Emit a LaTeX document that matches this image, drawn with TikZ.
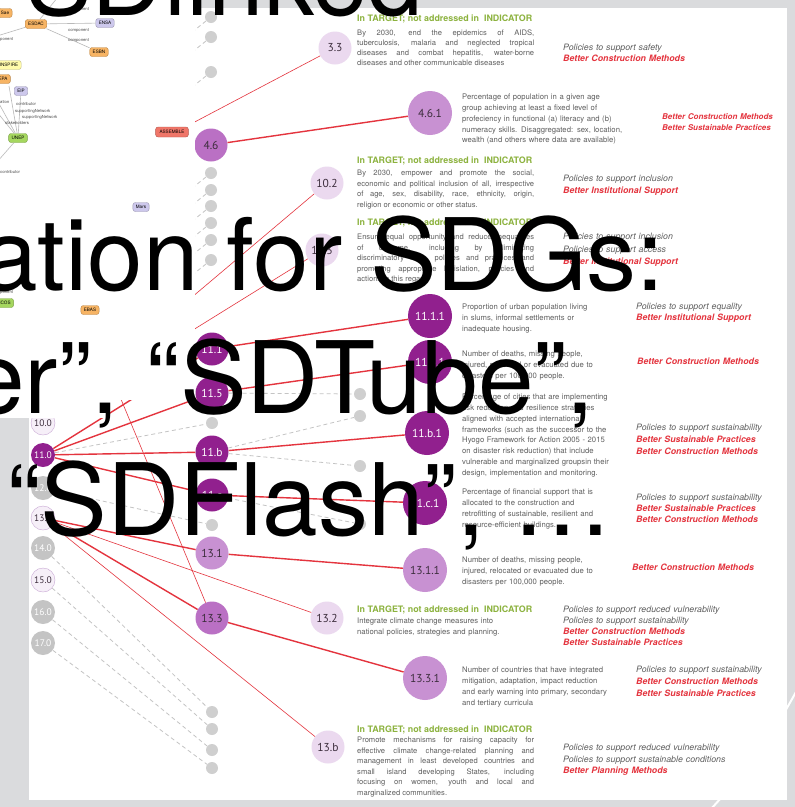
\documentclass[tikz,border=0pt]{standalone}
\usepackage{fontspec}
\setmainfont{TeX Gyre Heros}
\newfontfamily\labelfont{PT Sans}
\usetikzlibrary{positioning, calc}
\definecolor{sdbg}{RGB}{218,219,221}
\definecolor{sddark}{RGB}{145,32,142}
\definecolor{sdmid}{RGB}{186,112,196}
\definecolor{sdsoft}{RGB}{200,145,210}
\definecolor{sdpale}{RGB}{235,217,239}
\definecolor{sdwhite}{RGB}{246,239,248}
\definecolor{sdrim}{RGB}{200,168,212}
\definecolor{sdgray}{RGB}{196,196,196}
\definecolor{sddot}{RGB}{207,207,207}
\definecolor{sdred}{RGB}{228,52,62}
\definecolor{sdgreen}{RGB}{140,178,62}
\definecolor{sdtext}{RGB}{95,95,95}
\definecolor{sdink}{RGB}{60,45,60}
\definecolor{sdorange}{RGB}{247,180,100}
\definecolor{sdlav}{RGB}{205,200,236}
\definecolor{sdyellow}{RGB}{255,250,170}
\definecolor{sdlime}{RGB}{165,215,95}
\definecolor{sdsalmon}{RGB}{240,118,105}
\newcommand{\better}[1]{{\color{sdred}\bfseries #1}}

\begin{document}
\begin{tikzpicture}[x=1pt, y=-1pt,
  goal/.style={circle, minimum size=24pt, inner sep=0pt, text=sdink, font=\labelfont\fontsize{9.5}{10}\selectfont},
  target/.style={circle, minimum size=33pt, inner sep=0pt, text=sdink, font=\labelfont\fontsize{11.5}{12}\selectfont},
  indic/.style={circle, minimum size=44pt, inner sep=0pt, text=sdink, font=\labelfont\fontsize{11.5}{12}\selectfont},
  dot/.style={circle, fill=sddot, minimum size=12pt, inner sep=0pt},
  link/.style={draw=sdred, line width=0.6pt},
  strong/.style={draw=sdred, line width=1.4pt},
  weak/.style={draw=sdgray, dash pattern=on 4pt off 3pt, line width=0.8pt},
  head/.style={anchor=base west, inner sep=0pt, text=sdgreen, font=\bfseries\fontsize{8.9}{10}\selectfont},
  para/.style={anchor=base west, inner sep=0pt, text width=177pt, align=justify, text=sdtext, font=\fontsize{7.6}{10.5}\selectfont},
  ind/.style={anchor=base west, inner sep=0pt, text width=180pt, align=left, text=sdtext, font=\fontsize{7.7}{10.8}\selectfont},
  pol/.style={anchor=base west, inner sep=0pt, text width=170pt, align=left, text=sdtext, font=\itshape\fontsize{8.8}{11.5}\selectfont},
  gbox/.style={rounded corners=2.5pt, draw=#1!75!black, fill=#1, line width=0.4pt, inner xsep=3pt, inner ysep=1pt, minimum height=9pt, font=\fontsize{4.6}{5}\selectfont},
  gline/.style={draw=gray!55, line width=0.6pt},
  glab/.style={anchor=west, inner sep=0pt, text=black!70, font=\fontsize{4.2}{4.5}\selectfont},
  slide/.style={anchor=base west, inner sep=0pt, font=\fontsize{100}{100}\selectfont}
]
\useasboundingbox (0,0) rectangle (795,807);
\clip (0,0) rectangle (795,807);
\fill[sdbg] (0,0) rectangle (795,807);
\fill[white] (29,8) rectangle (787,800);

% goals
\node[goal, fill=sdwhite, draw=sdrim] (g10) at (43,423) {10.0};
\node[goal, fill=sddark, text=white] (g11) at (43,455) {11.0};
\node[goal, fill=sdgray, text=white] (g12) at (43,488) {12.0};
\node[goal, fill=sdwhite, draw=sdrim] (g13) at (43,518) {13.0};
\node[goal, fill=sdgray, text=white] (g14) at (43,548) {14.0};
\node[goal, fill=sdwhite, draw=sdrim] (g15) at (43,580) {15.0};
\node[goal, fill=sdgray, text=white] (g16) at (43,612) {16.0};
\node[goal, fill=sdgray, text=white] (g17) at (43,643) {17.0};

% targets
\node[target, fill=sdpale] (t33) at (335,48) {3.3};
\node[target, fill=sdmid] (t46) at (211,145) {4.6};
\node[target, fill=sdpale] (t102) at (327,183) {10.2};
\node[target, fill=sdpale] (t103) at (322,250) {10.3};
\node[target, fill=sddark, text=white] (t111) at (212,349) {11.1};
\node[target, fill=sddark, text=white] (t115) at (212,393) {11.5};
\node[target, fill=sddark, text=white] (t11b) at (212,452) {11.b};
\node[target, fill=sddark, text=white] (t11c) at (212,495) {11.c};
\node[target, fill=sdsoft] (t131) at (212,553) {13.1};
\node[target, fill=sdmid] (t133) at (212,618) {13.3};
\node[target, fill=sdpale] (t132) at (327,618) {13.2};
\node[target, fill=sdpale] (t13b) at (328,747) {13.b};

% indicators
\node[indic, fill=sdsoft] (i461) at (430,113) {4.6.1};
\node[indic, fill=sddark, text=white] (i1111) at (430,316) {11.1.1};
\node[indic, fill=sddark, text=white] (i1151) at (430,362) {11.5.1};
\node[indic, fill=sddark, text=white] (i11b1) at (427,433) {11.b.1};
\node[indic, fill=sddark, text=white] (i11c1) at (425,503) {11.c.1};
\node[indic, fill=sdsoft] (i1311) at (425,570) {13.1.1};
\node[indic, fill=sdsoft] (i1331) at (425,678) {13.3.1};

% unused ends
\foreach \y [count=\i] in {17,37,72,173,190,206,223,240,260} {
  \node[dot] (dA\i) at (211,\y) {};
  \coordinate (sA\i) at (181,\y+24);
  \draw[weak] (sA\i) -- (dA\i);
}
\node[dot] (dA10) at (212,423) {};
\node[dot] (dA11) at (212,525) {};
\node[dot] (dA12) at (212,712) {};
\node[dot] (dA13) at (212,729) {};
\node[dot] (dA14) at (212,750) {};
\node[dot] (dA15) at (212,768) {};
\node[dot] (dB1) at (360,394) {};
\node[dot] (dB2) at (360,416) {};
\node[dot] (dB3) at (360,466) {};
\node[dot] (dB4) at (360,524) {};

\draw[weak] (g11) -- (dA10);
\draw[weak] (g12) -- (dA11);
\draw[weak] (g14) -- (dA12);
\draw[weak] (g15) -- (dA13);
\draw[weak] (g16) -- (dA14);
\draw[weak] (g17) -- (dA15);
\draw[weak] (t115) -- (dB1);
\draw[weak] (t11b) -- (dB2);
\draw[weak] (t11b) -- (dB3);
\draw[weak] (t11c) -- (dB4);

% links
\coordinate (c30) at (43,202);
\coordinate (c133) at (113,380);
\draw[link] (c30) -- (t33);
\draw[link] (g10) -- (t102);
\draw[link] (g10) -- (t103);
\draw[link] (g13) -- (t132);
\draw[link] (g13) -- (t13b);
\draw[link] (c133) -- (t133);
\draw[strong] (g11) -- (t111);
\draw[strong] (g11) -- (t115);
\draw[strong] (g11) -- (t11b);
\draw[strong] (g11) -- (t11c);
\draw[strong] (g13) -- (t131);
\draw[strong] (g13) -- (t133);
\draw[strong] (t46) -- (i461);
\draw[strong] (t111) -- (i1111);
\draw[strong] (t115) -- (i1151);
\draw[strong] (t11b) -- (i11b1);
\draw[strong] (t11c) -- (i11c1);
\draw[strong] (t131) -- (i1311);
\draw[strong] (t133) -- (i1331);

% texts
\node[head] (h33) at (357,21) {In TARGET; not addressed in \ INDICATOR};
\node[para, font=\fontsize{7.6}{10.1}\selectfont] (p33) at (357,35.6) {By 2030, end the epidemics of AIDS,\linebreak tuberculosis, malaria and neglected tropical\linebreak diseases and combat hepatitis, water-borne\linebreak diseases and other communicable diseases};
\node[pol, font=\itshape\fontsize{8.8}{11}\selectfont] (q33) at (563,50.6) {Policies to support safety\\\better{Better Construction Methods}};

\node[ind] (x461) at (462,99.6) {Percentage of population in a given age\\group achieving at least a fixed level of\\profeciency in functional (a) literacy and (b)\\numeracy skills. Disaggregated: sex, location,\\wealth (and others where data are available)};
\node[pol, font=\itshape\fontsize{8}{11}\selectfont] (q461) at (662,119.6) {\better{Better Construction Methods}\\\better{Better Sustainable Practices}};

\node[head] (h102) at (357,163.6) {In TARGET; not addressed in \ INDICATOR};
\node[para] (p102) at (357,175.6) {By 2030, empower and promote the social,\linebreak economic and political inclusion of all, irrespective\linebreak of age, sex, disability, race, ethnicity, origin,\linebreak religion or economic or other status.};
\node[pol] (q102) at (563,181.6) {Policies to support inclusion\\\better{Better Institutional Support}};

\node[head] (h103) at (357,225.6) {In TARGET; not addressed in \ INDICATOR};
\node[para] (p103) at (357,239.6) {Ensure equal opportunity and reduce inequalities\linebreak of outcome, including by eliminating\linebreak discriminatory laws, policies and practices and\linebreak promoting appropriate legislation, policies and\linebreak actions in this regard.};
\node[pol, font=\itshape\fontsize{8.8}{12.5}\selectfont] (q103) at (563,239.6) {Policies to support inclusion\\Policies to support access\\\better{Better Institutional Support}};

\node[ind] (x1111) at (462,309.6) {Proportion of urban population living\\in slums, informal settlements or\\inadequate housing.};
\node[pol, font=\itshape\fontsize{8.8}{11}\selectfont] (q1111) at (636,309.6) {Policies to support equality\\\better{Better Institutional Support}};

\node[ind] (x1151) at (462,356.6) {Number of deaths, missing people,\\injured, relocated or evacuated due to\\disasters per 100,000 people.};
\node[pol] (q1151) at (637,364.6) {\better{Better Construction Methods}};

\node[ind] (x11b1) at (462,399.6) {Percentage of cities that are implementing\\risk reduction and resilience strategies\\aligned with accepted international\\frameworks (such as the successor to the\\Hyogo Framework for Action 2005 - 2015\\on disaster risk reduction) that include\\vulnerable and marginalized groupsin their\\design, implementation and monitoring.};
\node[pol, font=\itshape\fontsize{8.8}{12}\selectfont] (q11b1) at (636,430.6) {Policies to support sustainability\\\better{Better Sustainable Practices}\\\better{Better Construction Methods}};

\node[ind] (x11c1) at (462,494.6) {Percentage of financial support that is\\allocated to the construction and\\retrofitting of sustainable, resilient and\\resource-efficient buildings.};
\node[pol, font=\itshape\fontsize{8.8}{11}\selectfont] (q11c1) at (636,500.6) {Policies to support sustainability\\\better{Better Sustainable Practices}\\\better{Better Construction Methods}};

\node[ind, font=\fontsize{7.7}{11}\selectfont] (x1311) at (462,562.6) {Number of deaths, missing people,\\injured, relocated or evacuated due to\\disasters per 100,000 people.};
\node[pol] (q1311) at (632,570.6) {\better{Better Construction Methods}};

\node[head] (h132) at (357,612.6) {In TARGET; not addressed in \ INDICATOR};
\node[ind, font=\fontsize{7.7}{11}\selectfont] (x132) at (357,623.6) {Integrate climate change measures into\\national policies, strategies and planning.};
\node[pol, font=\itshape\fontsize{8.8}{11}\selectfont] (q132) at (563,612.6) {Policies to support reduced vulnerability\\Policies to support sustainability\\\better{Better Construction Methods}\\\better{Better Sustainable Practices}};

\node[ind, font=\fontsize{7.7}{11}\selectfont] (x1331) at (462,672.6) {Number of countries that have integrated\\mitigation, adaptation, impact reduction\\and early warning into primary, secondary\\and tertiary curricula};
\node[pol, font=\itshape\fontsize{8.8}{12}\selectfont] (q1331) at (636,672.6) {Policies to support sustainability\\\better{Better Construction Methods}\\\better{Better Sustainable Practices}};

\node[head] (h13b) at (357,732.6) {In TARGET; not addressed in \ INDICATOR};
\node[para, font=\fontsize{7.6}{10.5}\selectfont] (p13b) at (357,742.6) {Promote mechanisms for raising capacity for\linebreak effective climate change-related planning and\linebreak management in least developed countries and\linebreak small island developing States, including\linebreak focusing on women, youth and local and\linebreak marginalized communities.};
\node[pol] (q13b) at (563,750.6) {Policies to support reduced vulnerability\\Policies to support sustainable conditions\\\better{Better Planning Methods}};

% linked-data graph in the corner
\fill[white] (0,0) rectangle (195,400);
\fill[white] (0,400) rectangle (110,418);
\node[gbox=sdorange] (gsae) at (5,13) {Sae};
\node[gbox=sdorange] (gesdac) at (36,24) {ESDAC};
\node[gbox=sdlav] (gensa) at (105,23) {ENSA};
\node[gbox=sdorange] (gesbn) at (99,52) {ESBN};
\node[gbox=sdyellow] (ginspire) at (9,65) {INSPIRE};
\node[gbox=sdorange] (gepa) at (3,79) {EPA};
\node[gbox=sdlav] (geip) at (21,91) {EIP};
\node[gbox=sdlime] (gunep) at (18,138) {UNEP};
\node[gbox=sdsalmon, inner xsep=4pt, minimum height=10pt] (gassemble) at (172,132) {ASSEMBLE};
\node[gbox=sdlav] (gmars) at (141,207) {Mars};
\node[gbox=sdorange] (gebas) at (90,310) {EBAS};
\node[gbox=sdlime] (gicos) at (5,303) {ICOS};
\coordinate (gq1) at (58,-3);
\coordinate (gq2) at (-3,36);
\coordinate (gq3) at (-3,100);
\coordinate (gq4) at (-3,112);
\coordinate (gq5) at (9,86);
\coordinate (gq6) at (-3,162);
\draw[gline] (gesdac) -- (gensa);
\draw[gline] (gesdac) -- (gesbn);
\draw[gline] (gesdac) -- (gq1);
\draw[gline] (gesdac) -- (gq2);
\draw[gline] (geip) -- (gunep);
\draw[gline] (gq3) -- (gunep);
\draw[gline] (gq4) -- (gunep);
\draw[gline] (gq5) -- (gunep);
\draw[gline] (gunep) -- (gq6);
\node[glab] at (68,10) {component};
\node[glab] at (68,31) {component};
\node[glab] at (68,41) {component};
\node[glab] at (0,40) {ponent};
\node[glab] at (0,102) {ation};
\node[glab] at (16,104) {contributor};
\node[glab] at (15,111) {supportingNetwork};
\node[glab] at (22,117) {supportingNetwork};
\node[glab] at (5,123) {stakeholders};
\node[glab] at (0,172) {contributor};
\node[glab] at (0,293) {ponent};

% slide title over the pictures
\node[slide] (w1) at (25,15) {SDlinked};
\node[slide] (w2) at (-18,290) {ation for SDGs:};
\node[slide] (w3) at (-31,413) {er”, “SDTube”,};
\node[slide] (w4) at (7,535) {“SDFlash”, …};

% page curl
\draw[white, line width=2pt] (797,690) .. controls (770,740) and (745,772) .. (711,809);
\end{tikzpicture}
\end{document}
